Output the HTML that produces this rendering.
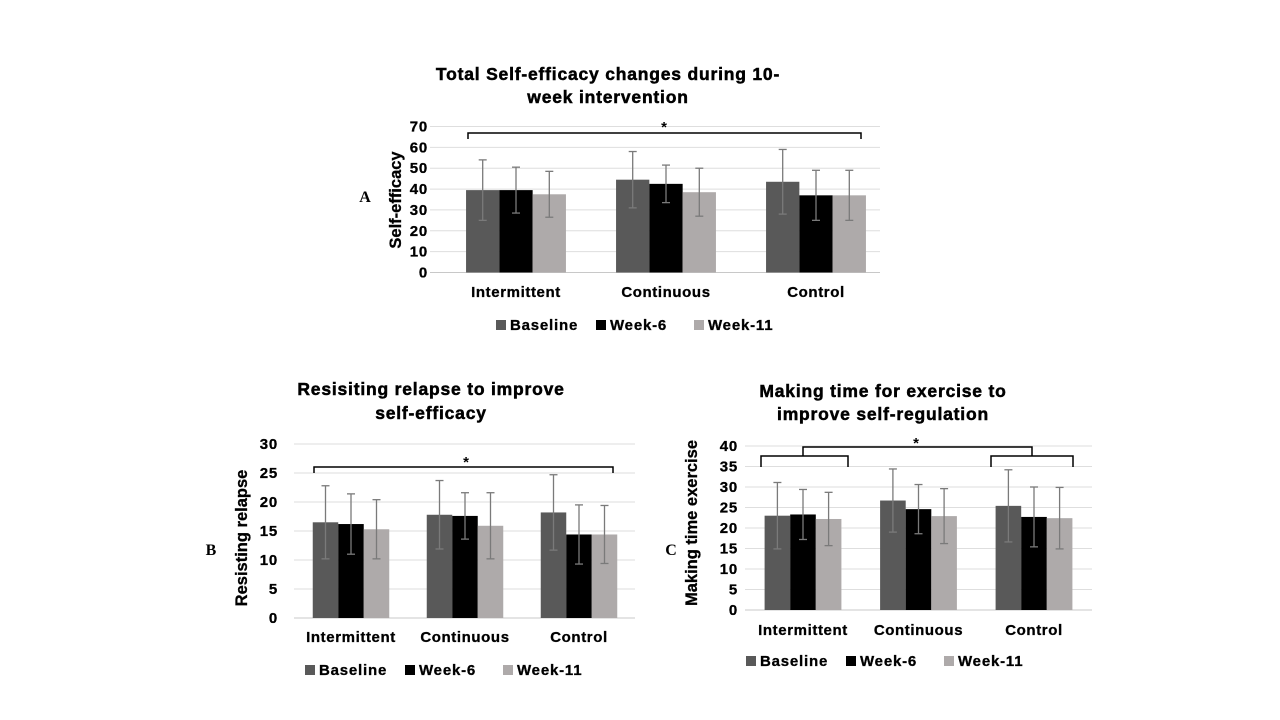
<!DOCTYPE html>
<html><head><meta charset="utf-8"><style>
body{margin:0;background:#fff;}
svg{display:block;font-family:"Liberation Sans",Arial,sans-serif;}
</style></head><body>
<svg id="fig" width="1280" height="720" viewBox="0 0 1280 720">
<g id="chartA"></g>
<g id="chartB"></g>
<g id="chartC"></g>
</svg>
<script>
const categories = ["Intermittent","Continuous","Control"];
const seriesNames = ["Baseline","Week-6","Week-11"];
const aBaseline = [39.5,44.5,43.5];
const aWeek6 = [39.5,42.5,37];
const aWeek11 = [37.5,38.5,37];
const aBaselineSD = [14.5,13.5,15.5];
const aWeek6SD = [11,9,12];
const aWeek11SD = [11,11.5,12];
const aTicks = [0,10,20,30,40,50,60,70];
const bBaseline = [16.5,17.8,18.2];
const bWeek6 = [16.2,17.6,14.4];
const bWeek11 = [15.3,15.9,14.4];
const bBaselineSD = [6.3,5.9,6.5];
const bWeek6SD = [5.2,4,5.1];
const bWeek11SD = [5.1,5.7,5];
const bTicks = [0,5,10,15,20,25,30];
const cBaseline = [23,26.7,25.4];
const cWeek6 = [23.3,24.6,22.7];
const cWeek11 = [22.2,22.9,22.4];
const cBaselineSD = [8.1,7.7,8.8];
const cWeek6SD = [6.1,6,7.3];
const cWeek11SD = [6.5,6.7,7.5];
const cTicks = [0,5,10,15,20,25,30,35,40];

const NS="http://www.w3.org/2000/svg";
const colors=["#595959","#000000","#aeaaaa"];
function mk(parent,tag,attrs,text){const e=document.createElementNS(NS,tag);for(const k in attrs)e.setAttribute(k,attrs[k]);if(text!==undefined)e.textContent=text;parent.appendChild(e);return e;}

function drawChart(g,cfg,series,sds,ticks){
  const maxV=ticks[ticks.length-1];
  const y=v=>cfg.y0-(v/maxV)*(cfg.y0-cfg.yTop);
  const xC=i=>cfg.c0+i*cfg.step;
  cfg.title.forEach((t,i)=>{
    const e=mk(g,"text",{x:cfg.tx,y:cfg.ty+i*cfg.tlh,"text-anchor":"middle","font-size":cfg.tfs,"font-weight":"bold","letter-spacing":0.8,stroke:"#000","stroke-width":0.5,fill:"#000"},t);
    
    
  });
  ticks.forEach(t=>{
    const l=mk(g,"line",{x1:cfg.gx1,x2:cfg.gx2,y1:y(t),y2:y(t),stroke:t===0?"#c8c8c8":"#dedede","stroke-width":1});
    
    
    const tl=mk(g,"text",{x:cfg.lx,y:y(t)+5,"text-anchor":"end","font-size":15,"font-weight":"bold","letter-spacing":0.8,stroke:"#000","stroke-width":0.3,fill:"#000"},String(t));
    
    
  });
  const yt=mk(g,"text",{x:0,y:0,transform:`translate(${cfg.ytx},${cfg.yty}) rotate(-90)`,"text-anchor":"middle","font-size":16.5,"font-weight":"bold",stroke:"#000","stroke-width":0.3,fill:"#000"},cfg.ytitle);
  
  
  const pl=mk(g,"text",{x:cfg.px,y:cfg.py,"text-anchor":"middle","font-size":16,"font-weight":"bold","font-family":"Liberation Serif,serif",fill:"#000"},cfg.letter);
  
  
  categories.forEach((c,i)=>{
    series.forEach((s,j)=>{
      const x=xC(i)+(j-1.5)*cfg.bw;
      const r=mk(g,"rect",{x:x,y:y(s[i]),width:cfg.bw,height:cfg.y0-y(s[i]),fill:colors[j]});
      
      
    });
    series.forEach((s,j)=>{
      const cx=xC(i)+(j-1)*cfg.bw;
      const hi=y(s[i]+sds[j][i]),lo=y(s[i]-sds[j][i]);
      const eg=mk(g,"g",{stroke:"#7a7a7a","stroke-width":1.3});
      
      
      mk(eg,"line",{x1:cx,x2:cx,y1:hi,y2:lo});
      mk(eg,"line",{x1:cx-4,x2:cx+4,y1:hi,y2:hi});
      mk(eg,"line",{x1:cx-4,x2:cx+4,y1:lo,y2:lo});
    });
    const cl=mk(g,"text",{x:xC(i),y:cfg.cly,"text-anchor":"middle","font-size":15,"font-weight":"bold","letter-spacing":0.6,stroke:"#000","stroke-width":0.3,fill:"#000"},c);
    
    
  });
  cfg.brackets.forEach(b=>{
    const p=mk(g,"path",{d:`M${b[0]},${b[2]+b[3]} L${b[0]},${b[2]} L${b[1]},${b[2]} L${b[1]},${b[2]+b[3]}`,fill:"none",stroke:"#000","stroke-width":1.5});
    
    
  });
  const st=mk(g,"text",{x:cfg.sx,y:cfg.sy,"text-anchor":"middle","font-size":15,"font-weight":"bold",fill:"#000"},"*");
  
  
  let lx=cfg.lgx;
  seriesNames.forEach((n,j)=>{
    const lg=mk(g,"g",{});
    
    
    mk(lg,"rect",{x:lx,y:cfg.lgy-10,width:10,height:10,fill:colors[j]});
    mk(lg,"text",{x:lx+14,y:cfg.lgy,"font-size":15,"font-weight":"bold","letter-spacing":0.8,stroke:"#000","stroke-width":0.3,fill:"#000"},n);
    lx+=cfg.lgsp[j];
  });
}

drawChart(document.getElementById("chartA"),{
  title:["Total Self-efficacy changes during 10-","week intervention"],tx:608,ty:80,tlh:23,tfs:17.5,
  y0:272.5,yTop:126.5,gx1:430,gx2:880,lx:428,c0:516,step:150,bw:33.3,
  ytitle:"Self-efficacy",ytx:401,yty:200,letter:"A",px:365,py:202,cly:297,
  brackets:[[468,861,133,6]],sx:664,sy:132,lgx:496,lgy:330,lgsp:[100,98,0]
},[aBaseline,aWeek6,aWeek11],[aBaselineSD,aWeek6SD,aWeek11SD],aTicks);

drawChart(document.getElementById("chartB"),{
  title:["Resisiting relapse to improve","self-efficacy"],tx:431,ty:395,tlh:24,tfs:17.5,
  y0:618,yTop:444,gx1:294,gx2:635,lx:278,c0:351,step:114,bw:25.5,
  ytitle:"Resisting relapse",ytx:247,yty:538,letter:"B",px:211,py:555,cly:642,
  brackets:[[314,613,467,6]],sx:466,sy:467,lgx:305,lgy:675,lgsp:[100,98,0]
},[bBaseline,bWeek6,bWeek11],[bBaselineSD,bWeek6SD,bWeek11SD],bTicks);

drawChart(document.getElementById("chartC"),{
  title:["Making time for exercise to","improve self-regulation"],tx:883,ty:397,tlh:23,tfs:17.5,
  y0:610,yTop:446,gx1:745,gx2:1092,lx:738,c0:803,step:115.5,bw:25.6,
  ytitle:"Making time exercise",ytx:697,yty:523,letter:"C",px:671,py:555,cly:635,
  brackets:[[761,848,456,11],[991,1073,456,11],[803,1032,447,9]],sx:916,sy:448,lgx:746,lgy:666,lgsp:[100,98,0]
},[cBaseline,cWeek6,cWeek11],[cBaselineSD,cWeek6SD,cWeek11SD],cTicks);
</script>
</body></html>
